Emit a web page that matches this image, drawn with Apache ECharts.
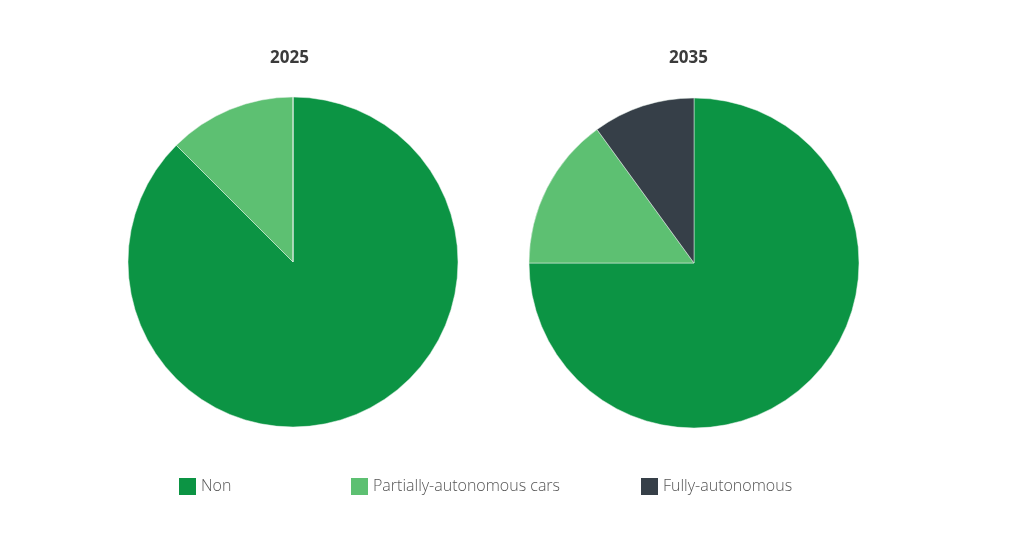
<!DOCTYPE html>
<html>
<head>
<meta charset="utf-8">
<title>autonomous cars</title>
<script src="https://cdn.jsdelivr.net/npm/echarts@6/dist/echarts.min.js"></script>
<style>
  html, body { margin: 0; padding: 0; background: #fff; }
  #main { width: 1024px; height: 549px; }
</style>
</head>
<body>
<div id="main"></div>
<script type="text/javascript">
// data (percent share)
var categories = ['Non', 'Partially-autonomous cars', 'Fully-autonomous'];
var years = ['2025', '2035'];
var share2025 = [87.5, 12.5, 0];
var share2035 = [75, 15, 10];
var colors = ['#0c9444', '#5dc072', '#363f48'];

function pieData(values) {
  var out = [];
  for (var i = 0; i < categories.length; i++) {
    out.push({ name: categories[i], value: values[i] });
  }
  return out;
}

var myChart = echarts.init(document.getElementById('main'));

var titleStyle = { fontFamily: 'Open Sans', fontSize: 17, fontWeight: 'bold', color: '#3b3b3b' };
var legendText = { fontFamily: 'Open Sans', fontSize: 16, fontWeight: 300, color: '#555' };

function oneLegend(name, left) {
  return {
    data: [name],
    left: left,
    top: 478,
    padding: 0,
    itemWidth: 17,
    itemHeight: 17,
    itemGap: 4,
    icon: 'rect',
    itemStyle: { borderWidth: 0 },
    selectedMode: false,
    textStyle: legendText
  };
}

var series = [];
var shares = [share2025, share2035];
var centers = [[293, 262], [694, 263]];
for (var k = 0; k < years.length; k++) {
  series.push({
    name: years[k],
    type: 'pie',
    center: centers[k],
    radius: 165,
    startAngle: 90,
    clockwise: true,
    label: { show: false },
    labelLine: { show: false },
    emphasis: { disabled: true },
    itemStyle: { borderColor: '#e8f3ec', borderWidth: 0.5 },
    data: pieData(shares[k])
  });
}

myChart.setOption({
  animation: false,
  color: colors,
  title: [
    { text: years[0], left: 265, top: 45, textStyle: titleStyle },
    { text: years[1], left: 664, top: 45, textStyle: titleStyle }
  ],
  legend: [
    oneLegend(categories[0], 179),
    oneLegend(categories[1], 351),
    oneLegend(categories[2], 641)
  ],
  series: series
});
</script>
</body>
</html>
